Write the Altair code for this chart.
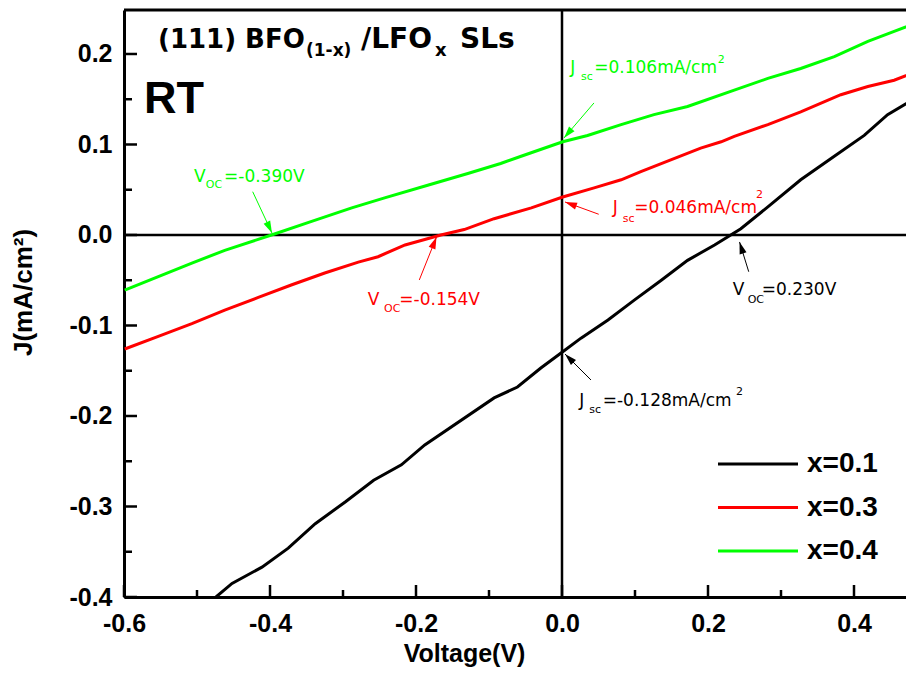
import math
import altair as alt
import pandas as pd

# ---------------- data ----------------
series_names = ["x=0.1", "x=0.3", "x=0.4"]
series_colors = ["#000000", "#ff0000", "#00ff00"]

v_x01 = [-0.474, -0.452, -0.411, -0.375, -0.338, -0.297, -0.258, -0.220, -0.188, -0.093,
         -0.061, -0.029, 0.001, 0.026, 0.063, 0.099, 0.136, 0.172, 0.209, 0.245, 0.282,
         0.327, 0.373, 0.414, 0.446, 0.484]
j_x01 = [-0.400, -0.385, -0.367, -0.346, -0.319, -0.295, -0.271, -0.254, -0.232, -0.180,
         -0.168, -0.147, -0.129, -0.114, -0.094, -0.072, -0.050, -0.028, -0.011, 0.007, 0.031,
         0.061, 0.087, 0.110, 0.133, 0.151]

v_x03 = [-0.599, -0.553, -0.507, -0.462, -0.416, -0.370, -0.325, -0.279, -0.252, -0.215,
         -0.188, -0.166, -0.134, -0.093, -0.042, 0.001, 0.044, 0.081, 0.108, 0.149, 0.190,
         0.218, 0.236, 0.282, 0.327, 0.382, 0.419, 0.455, 0.484]
j_x03 = [-0.126, -0.112, -0.098, -0.083, -0.069, -0.055, -0.042, -0.030, -0.024, -0.011,
         -0.005, 0.000, 0.006, 0.018, 0.030, 0.042, 0.052, 0.061, 0.070, 0.083, 0.096,
         0.103, 0.109, 0.122, 0.136, 0.155, 0.164, 0.171, 0.180]

v_x04 = [-0.599, -0.553, -0.507, -0.462, -0.398, -0.343, -0.288, -0.243, -0.184, -0.129,
         -0.084, -0.056, 0.001, 0.035, 0.081, 0.126, 0.172, 0.236, 0.282, 0.327, 0.373,
         0.419, 0.455, 0.484]
j_x04 = [-0.061, -0.046, -0.031, -0.017, 0.000, 0.015, 0.030, 0.041, 0.055, 0.068,
         0.079, 0.087, 0.103, 0.110, 0.122, 0.133, 0.142, 0.160, 0.173, 0.184, 0.197,
         0.214, 0.225, 0.234]

x_major = [-0.6, -0.4, -0.2, 0.0, 0.2, 0.4]
x_minor = [-0.5, -0.3, -0.1, 0.1, 0.3]
y_major = [-0.4, -0.3, -0.2, -0.1, 0.0, 0.1, 0.2]
y_minor = [-0.35, -0.25, -0.15, -0.05, 0.05, 0.15]

W, H = 782, 587
XMIN, XMAX = -0.6, -0.6 + 782 / 730.0
YMIN, YMAX = -0.4, 0.2486

# annotation text pieces (value labels with sub/superscripts)
ann_text = ["V", "OC", "=-0.390V",
            "J", "sc", "=0.106mA/cm", "2",
            "J", "sc", "=0.046mA/cm", "2",
            "V", "OC", "=-0.154V",
            "V", "OC", "=0.230V",
            "J", "sc", "=-0.128mA/cm", "2"]
ann_v = [-0.504, -0.488, -0.463,
         0.0114, 0.026, 0.0442, 0.2133,
         0.0695, 0.0832, 0.099, 0.2658,
         -0.2662, -0.2438, -0.2229,
         0.2338, 0.2544, 0.2736,
         0.0237, 0.0374, 0.0558, 0.2384]
ann_j = [0.0586, 0.0519, 0.0586,
         0.1793, 0.1713, 0.1793, 0.190,
         0.024, 0.0147, 0.024, 0.0409,
         -0.0773, -0.0851, -0.0773,
         -0.0663, -0.0751, -0.0663,
         -0.189, -0.1967, -0.189, -0.1768]
ann_color = ["#00ff00"] * 3 + ["#00ff00"] * 4 + ["#ff0000"] * 4 + ["#ff0000"] * 3 + \
            ["#000000"] * 3 + ["#000000"] * 4
ann_size = [17, 11, 17,
            17, 11, 17, 11,
            17, 11, 17, 11,
            17, 11, 17,
            17, 11, 17,
            17, 11, 17, 11]

# arrows: start (v0, j0) -> tip (v1, j1)
arrow_v0 = [-0.4237, 0.0438, 0.0503, -0.1955, 0.2558, 0.0397]
arrow_j0 = [0.0478, 0.1459, 0.0229, -0.0497, -0.0406, -0.1602]
arrow_v1 = [-0.3973, 0.0027, 0.0041, -0.1719, 0.2432, 0.0041]
arrow_j1 = [0.0022, 0.1072, 0.0365, -0.0022, -0.0077, -0.1315]
arrow_color = ["#00ff00", "#00ff00", "#ff0000", "#ff0000", "#000000", "#000000"]

# bold header texts
head_text = ["(111) BFO", "(1-x)", "/LFO", "x", "SLs"]
head_v = [-0.5534, -0.3507, -0.2753, -0.1740, -0.1397]
head_j = [0.2066, 0.1978, 0.2066, 0.1978, 0.2066]
head_size = [26, 17, 28, 18, 28]
rt_text = ["RT"]
rt_v = [-0.5726]
rt_j = [0.1348]

# ---------------- build tables ----------------
rows = []
for name, vs, js in zip(series_names, [v_x01, v_x03, v_x04], [j_x01, j_x03, j_x04]):
    for i, (v, j) in enumerate(zip(vs, js)):
        rows.append({"series": name, "V": v, "J": j, "idx": i})
curves = pd.DataFrame(rows)

ann = pd.DataFrame({"t": ann_text, "V": ann_v, "J": ann_j, "c": ann_color, "s": ann_size})
head = pd.DataFrame({"t": head_text, "V": head_v, "J": head_j, "s": head_size})
rt = pd.DataFrame({"t": rt_text, "V": rt_v, "J": rt_j})

XPX = W / (XMAX - XMIN)
YPX = H / (YMAX - YMIN)
angles = []
for a0, b0, a1, b1 in zip(arrow_v0, arrow_j0, arrow_v1, arrow_j1):
    dx = (a1 - a0) * XPX
    dy = -(b1 - b0) * YPX
    angles.append(math.degrees(math.atan2(dx, -dy)) % 360)
arrows = pd.DataFrame({"V": arrow_v0, "J": arrow_j0, "V2": arrow_v1, "J2": arrow_j1,
                       "c": arrow_color, "ang": angles})

xscale = alt.Scale(domain=[XMIN, XMAX], nice=False, zero=False)
yscale = alt.Scale(domain=[YMIN, YMAX], nice=False, zero=False)

FONT = "Liberation Sans"
WIDE = "DejaVu Sans"
neg_fmt = ("datum.value < -0.00001 ? '-' + format(-datum.value, '.1f') : "
           "format(abs(datum.value), '.1f')")

xaxis = alt.Axis(values=x_major, labelExpr=neg_fmt, ticks=False, tickSize=0, grid=False,
                 domainColor="black", domainWidth=3, labelFont=FONT, labelFontWeight="bold",
                 labelFontSize=25, labelColor="black", labelPadding=14, labelFlush=False,
                 labelOverlap=False, title="Voltage(V)", titleFont=FONT, titleFontSize=25,
                 titleFontWeight="bold", titleColor="black", titleX=340, titleY=64,
                 titleBaseline="alphabetic", titleAlign="center")
yaxis = alt.Axis(values=y_major, labelExpr=neg_fmt, ticks=False, tickSize=0, grid=False,
                 domainColor="black", domainWidth=3, labelFont=FONT, labelFontWeight="bold",
                 labelFontSize=25, labelColor="black", labelPadding=12, labelFlush=False,
                 labelOverlap=False, title="J(mA/cm²)", titleFont=FONT, titleFontSize=26,
                 titleFontWeight="bold", titleColor="black", titleX=-93, titleY=282,
                 titleAngle=270, titleBaseline="alphabetic", titleAlign="center")


def X(f="V"):
    return alt.X(f + ":Q", scale=xscale, axis=xaxis)


def Y(f="J"):
    return alt.Y(f + ":Q", scale=yscale, axis=yaxis)


lines = alt.Chart(curves).mark_line(strokeWidth=3, clip=True).encode(
    x=X(), y=Y(),
    color=alt.Color("series:N", scale=alt.Scale(domain=series_names, range=series_colors),
                    legend=alt.Legend(title=None, orient="none", legendX=620, legendY=440,
                                      symbolType="M-4,0H4", symbolSize=400,
                                      symbolStrokeWidth=3, labelFont=FONT,
                                      labelFontWeight="bold", labelFontSize=28,
                                      labelColor="black", labelOffset=35, rowPadding=15.5,
                                      padding=0)),
    order="idx:Q",
)

zero_v = alt.Chart(pd.DataFrame({"V": [0.0]})).mark_rule(color="black", strokeWidth=2.5).encode(x=X())
zero_j = alt.Chart(pd.DataFrame({"J": [0.0]})).mark_rule(color="black", strokeWidth=2.5).encode(y=Y())
top_border = alt.Chart(pd.DataFrame({"J": [YMAX]})).mark_rule(color="black", strokeWidth=3).encode(y=Y())

xt_major = alt.Chart(pd.DataFrame({"V": x_major})).mark_rule(color="black", strokeWidth=2.5).encode(
    x=X(), y=alt.value(H), y2=alt.value(H - 12))
xt_minor = alt.Chart(pd.DataFrame({"V": x_minor})).mark_rule(color="black", strokeWidth=2.5).encode(
    x=X(), y=alt.value(H), y2=alt.value(H - 7))
yt_major = alt.Chart(pd.DataFrame({"J": y_major})).mark_rule(color="black", strokeWidth=2.5).encode(
    y=Y(), x=alt.value(0), x2=alt.value(13))
yt_minor = alt.Chart(pd.DataFrame({"J": y_minor})).mark_rule(color="black", strokeWidth=2.5).encode(
    y=Y(), x=alt.value(0), x2=alt.value(8))

arrow_lines = alt.Chart(arrows).mark_rule(strokeWidth=1).encode(
    x=X(), y=Y(), x2="V2:Q", y2="J2:Q",
    color=alt.Color("c:N", scale=None, legend=None))
arrow_heads = alt.Chart(arrows).mark_point(shape="M0,0L-0.3,1L0.3,1Z", size=576, filled=True,
                                           opacity=1).encode(
    x=X("V2"), y=Y("J2"),
    color=alt.Color("c:N", scale=None, legend=None),
    angle=alt.Angle("ang:Q", scale=None))

ann_text_layer = alt.Chart(ann).mark_text(align="left", baseline="alphabetic", font=WIDE).encode(
    x=X(), y=Y(), text="t:N",
    color=alt.Color("c:N", scale=None, legend=None),
    size=alt.Size("s:Q", scale=None, legend=None))

head_layer = alt.Chart(head).mark_text(align="left", baseline="alphabetic", font=WIDE,
                                       fontWeight="bold", color="black").encode(
    x=X(), y=Y(), text="t:N",
    size=alt.Size("s:Q", scale=None, legend=None))

rt_layer = alt.Chart(rt).mark_text(align="left", baseline="alphabetic", font=FONT,
                                   fontWeight="bold", color="black", fontSize=45).encode(
    x=X(), y=Y(), text="t:N")

chart = alt.layer(
    zero_v, zero_j, lines, top_border, xt_major, xt_minor, yt_major, yt_minor,
    arrow_lines, arrow_heads, ann_text_layer, head_layer, rt_layer
).properties(
    width=W, height=H,
    padding={"left": 116, "top": 2, "right": 0, "bottom": 74},
    autosize=alt.AutoSizeParams(type="none"),
    background="white",
).configure_view(stroke=None)

chart.save("out.html", embed_options={"renderer": "svg", "actions": False})
